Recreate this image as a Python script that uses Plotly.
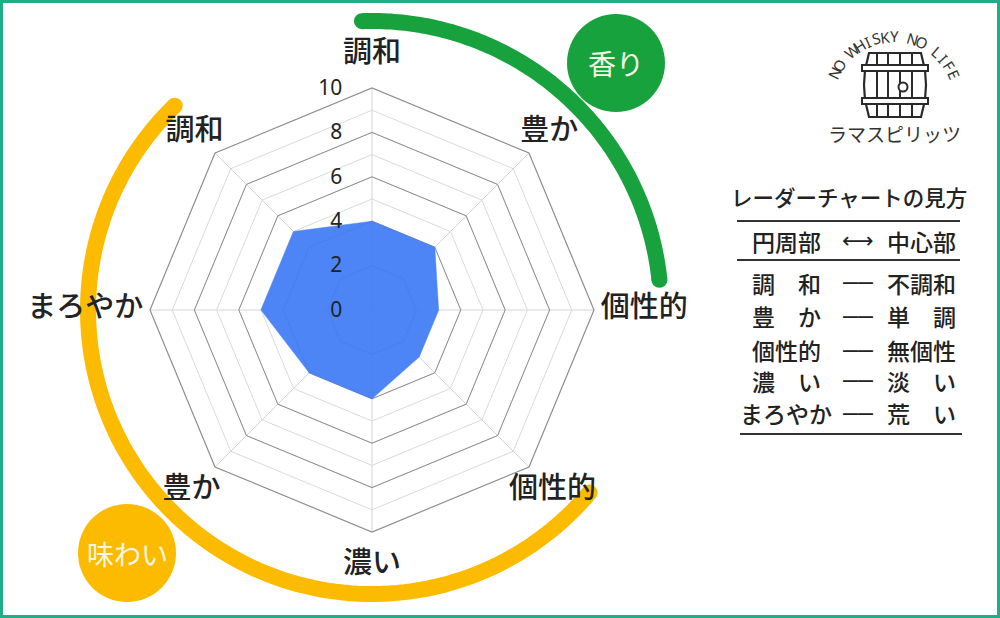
import math
import plotly.graph_objects as go

# ---------------- data ----------------
axis_ids = ["香り・調和", "香り・豊か", "香り・個性的", "味わい・個性的",
            "味わい・濃い", "味わい・豊か", "味わい・まろやか", "味わい・調和"]
axis_labels = ["調和", "豊か", "個性的", "個性的", "濃い", "豊か", "まろやか", "調和"]
scores = [4, 4, 3, 3, 4, 4, 5, 5]
radial_major = [0, 2, 4, 6, 8, 10]
radial_minor = [1, 2, 3, 4, 5, 6, 7, 8, 9, 10]

group_labels = ["香り", "味わい"]
legend_title = "レーダーチャートの見方"
legend_header = ["円周部", "⟷", "中心部"]
legend_outer = ["調　和", "豊　か", "個性的", "濃　い", "まろやか"]
legend_inner = ["不調和", "単　調", "無個性", "淡　い", "荒　い"]
logo_arc_text = "NO WHISKY NO LIFE"
logo_name = "ラマスピリッツ"

# ---------------- layout helpers ----------------
W, H = 1000, 618
CX, CY, R = 372, 310, 222
R_LABEL = 300          # pixel radius of the (invisible) label layer
JP = "Noto Sans CJK JP"
TXT = "#222222"
GREEN = "#17a23e"
YELLOW = "#fdbb00"
RMAX = 10


def px(x, y):
    return x / W, 1 - y / H


def arc_path(cx, cy, r, b0, b1, n=120):
    pts = []
    for i in range(n + 1):
        b = math.radians(b0 + (b1 - b0) * i / n)
        pts.append(px(cx + r * math.sin(b), cy - r * math.cos(b)))
    return "M " + " L ".join(f"{x:.5f},{y:.5f}" for x, y in pts)


def circle(cx, cy, r, fill, line_color=None, lw=0):
    x0, y0 = px(cx - r, cy + r)
    x1, y1 = px(cx + r, cy - r)
    return dict(type="circle", xref="paper", yref="paper", x0=x0, y0=y0, x1=x1, y1=y1,
                fillcolor=fill, line=dict(color=line_color or fill, width=lw), layer="above")


def line(xa, ya, xb, yb, color="#333333", w=2):
    x0, y0 = px(xa, ya)
    x1, y1 = px(xb, yb)
    return dict(type="line", xref="paper", yref="paper", x0=x0, y0=y0, x1=x1, y1=y1,
                line=dict(color=color, width=w), layer="above")


def domain(rpx):
    return dict(x=[(CX - rpx) / W, (CX + rpx) / W],
                y=[(H - CY - rpx) / H, (H - CY + rpx) / H])


fig = go.Figure()

# invisible trace to establish categories on the underlay polar
fig.add_trace(go.Scatterpolar(r=scores, theta=axis_ids, mode="lines",
                              line=dict(width=0, color="rgba(0,0,0,0)"),
                              hoverinfo="skip", showlegend=False, subplot="polar"))
fig.add_trace(go.Scatterpolar(r=scores + scores[:1], theta=axis_ids + axis_ids[:1],
                              mode="lines", fill="toself",
                              fillcolor="rgba(66,125,245,0.94)",
                              line=dict(width=0.5, color="rgba(66,125,245,0.94)"),
                              hoverinfo="skip", showlegend=False, subplot="polar2"))

# axis point labels, on a larger invisible polar layer sharing the same scale
n_ax = len(axis_ids)
label_r, label_pos = [], []
for i in range(n_ax):
    ang = 360 * i / n_ax
    s = math.sin(math.radians(ang))
    c = math.cos(math.radians(ang))
    if abs(s) > 0.99:
        label_r.append(RMAX * 1.03)
        label_pos.append("middle right" if s > 0 else "middle left")
    elif c > 0.1 and abs(s) > 0.1:
        label_r.append(RMAX * 1.13)
        label_pos.append("middle center")
    else:
        label_r.append(RMAX * 1.15)
        label_pos.append("middle center")
fig.add_trace(go.Scatterpolar(r=label_r, theta=axis_ids, mode="text", text=axis_labels,
                              textposition=label_pos, cliponaxis=False,
                              textfont=dict(family=JP, size=29, color=TXT, weight=500),
                              hoverinfo="skip", showlegend=False, subplot="polar3"))

polar_common = dict(domain=domain(R), gridshape="linear", bgcolor="rgba(0,0,0,0)")

fig.update_layout(
    width=W, height=H, margin=dict(l=0, r=0, t=0, b=0),
    paper_bgcolor="white", plot_bgcolor="white", showlegend=False,
    font=dict(family=JP, color=TXT),
    polar=dict(
        **polar_common,
        radialaxis=dict(range=[0, RMAX], tickvals=radial_minor, showticklabels=False,
                        showline=False, ticks="", gridcolor="#dadada", gridwidth=1, angle=90),
        angularaxis=dict(type="category", categoryarray=axis_ids, rotation=90,
                         direction="clockwise", showticklabels=False, ticks="",
                         showline=False, gridcolor="#d4d4d4", gridwidth=1),
    ),
    polar2=dict(
        **polar_common,
        radialaxis=dict(range=[0, RMAX], tickvals=radial_major, showticklabels=True,
                        showline=False, ticks="outside", ticklen=22,
                        tickcolor="rgba(0,0,0,0)", gridcolor="#8e8e8e", gridwidth=1.2,
                        angle=90, side="counterclockwise", tickangle=90,
                        tickfont=dict(family="Noto Sans", size=21, color=TXT)),
        angularaxis=dict(type="category", categoryarray=axis_ids, rotation=90,
                         direction="clockwise", showticklabels=False, ticks="",
                         showgrid=False, showline=True, linecolor="#8e8e8e", linewidth=1.2),
    ),
    polar3=dict(
        domain=domain(R_LABEL), gridshape="linear", bgcolor="rgba(0,0,0,0)",
        radialaxis=dict(range=[0, RMAX * R_LABEL / R], visible=False, showgrid=False),
        angularaxis=dict(type="category", categoryarray=axis_ids, rotation=90,
                         direction="clockwise", visible=False, showgrid=False,
                         showline=False, showticklabels=False),
    ),
)

shapes = []
# outer frame
shapes.append(dict(type="rect", xref="paper", yref="paper", x0=1.5 / W, y0=1.5 / H,
                   x1=1 - 1.5 / W, y1=1 - 1.5 / H, line=dict(color="#1fae85", width=3),
                   fillcolor="rgba(0,0,0,0)", layer="above"))

# group arcs
arcs = [(GREEN, 289, -2, 84), (YELLOW, 284, 130, 316)]
for color, r, b0, b1 in arcs:
    shapes.append(dict(type="path", xref="paper", yref="paper", path=arc_path(CX, CY, r, b0, b1),
                       line=dict(color=color, width=16), layer="below"))
    for b in (b0, b1):
        bx = CX + r * math.sin(math.radians(b))
        by = CY - r * math.cos(math.radians(b))
        c = circle(bx, by, 8, color)
        c["layer"] = "below"
        shapes.append(c)

# group badges
badges = [(GREEN, 616, 63, 49, 28), (YELLOW, 127, 553, 49, 27)]
annotations = []
for (color, bx, by, br, fs), label in zip(badges, group_labels):
    shapes.append(circle(bx, by, br, color))
    ax, ay = px(bx, by)
    annotations.append(dict(x=ax, y=ay, xref="paper", yref="paper", text=label, showarrow=False,
                            font=dict(family=JP, size=fs, color="#f6f8e4"),
                            xanchor="center", yanchor="middle"))

# logo: barrel
LC = "#2a2a2a"
barrel_outline = [(869, 53), (921, 53), (925, 70), (926, 85), (925, 100), (921, 117),
                  (869, 117), (865, 100), (864, 85), (865, 70)]
p = "M " + " L ".join("{:.5f},{:.5f}".format(*px(x, y)) for x, y in barrel_outline) + " Z"
shapes.append(dict(type="path", xref="paper", yref="paper", path=p,
                   line=dict(color=LC, width=2.2), fillcolor="white", layer="above"))
for sx in (877, 888, 900, 912):
    shapes.append(line(sx, 53, sx, 117, LC, 2))
for band_y in (68, 101):
    x0, y0 = px(862, band_y + 3)
    x1, y1 = px(928, band_y - 3)
    shapes.append(dict(type="rect", xref="paper", yref="paper", x0=x0, y0=y0, x1=x1, y1=y1,
                       fillcolor="white", line=dict(color=LC, width=2), layer="above"))
shapes.append(circle(903, 87, 4.5, "white", LC, 2))

# logo: curved text
n = len(logo_arc_text)
for i, ch in enumerate(logo_arc_text):
    if ch == " ":
        continue
    b = -64 + 129 * i / (n - 1)
    lx = 894 + 66 * math.sin(math.radians(b))
    ly = 102 - 66 * math.cos(math.radians(b))
    ax, ay = px(lx, ly)
    annotations.append(dict(x=ax, y=ay, xref="paper", yref="paper", text=ch, showarrow=False,
                            textangle=b, font=dict(family="Noto Sans", size=15, color="#333333"),
                            xanchor="center", yanchor="middle"))
ax, ay = px(894, 133)
annotations.append(dict(x=ax, y=ay, xref="paper", yref="paper", text=logo_name, showarrow=False,
                        font=dict(family=JP, size=19, color="#333333"),
                        xanchor="center", yanchor="middle"))


# legend table
def txt(x, y, s, size=23, family=JP, weight=500):
    ax, ay = px(x, y)
    return dict(x=ax, y=ay, xref="paper", yref="paper", text=s, showarrow=False,
                font=dict(family=family, size=size, color=TXT, weight=weight),
                xanchor="center", yanchor="middle")


annotations.append(txt(849, 197, legend_title, 21.5))
shapes.append(line(737, 221, 960, 221, "#333333", 2))
annotations.append(txt(786, 241, legend_header[0], 23))
annotations.append(txt(858, 241, legend_header[1], 22, "DejaVu Sans"))
annotations.append(txt(921, 241, legend_header[2], 23))
shapes.append(line(737, 260, 960, 260, "#333333", 2))
row_y = [283, 316, 350, 381, 413]
for y, a, b in zip(row_y, legend_outer, legend_inner):
    annotations.append(txt(786, y, a, 23))
    annotations.append(txt(858, y, "━━", 15))
    annotations.append(txt(921, y, b, 23))
shapes.append(line(740, 434, 962, 434, "#333333", 2))

fig.update_layout(shapes=shapes, annotations=annotations)
fig.write_html("out.html", config={"displayModeBar": False},
               post_script="document.body.style.margin='0px';document.body.style.overflow='hidden';")
